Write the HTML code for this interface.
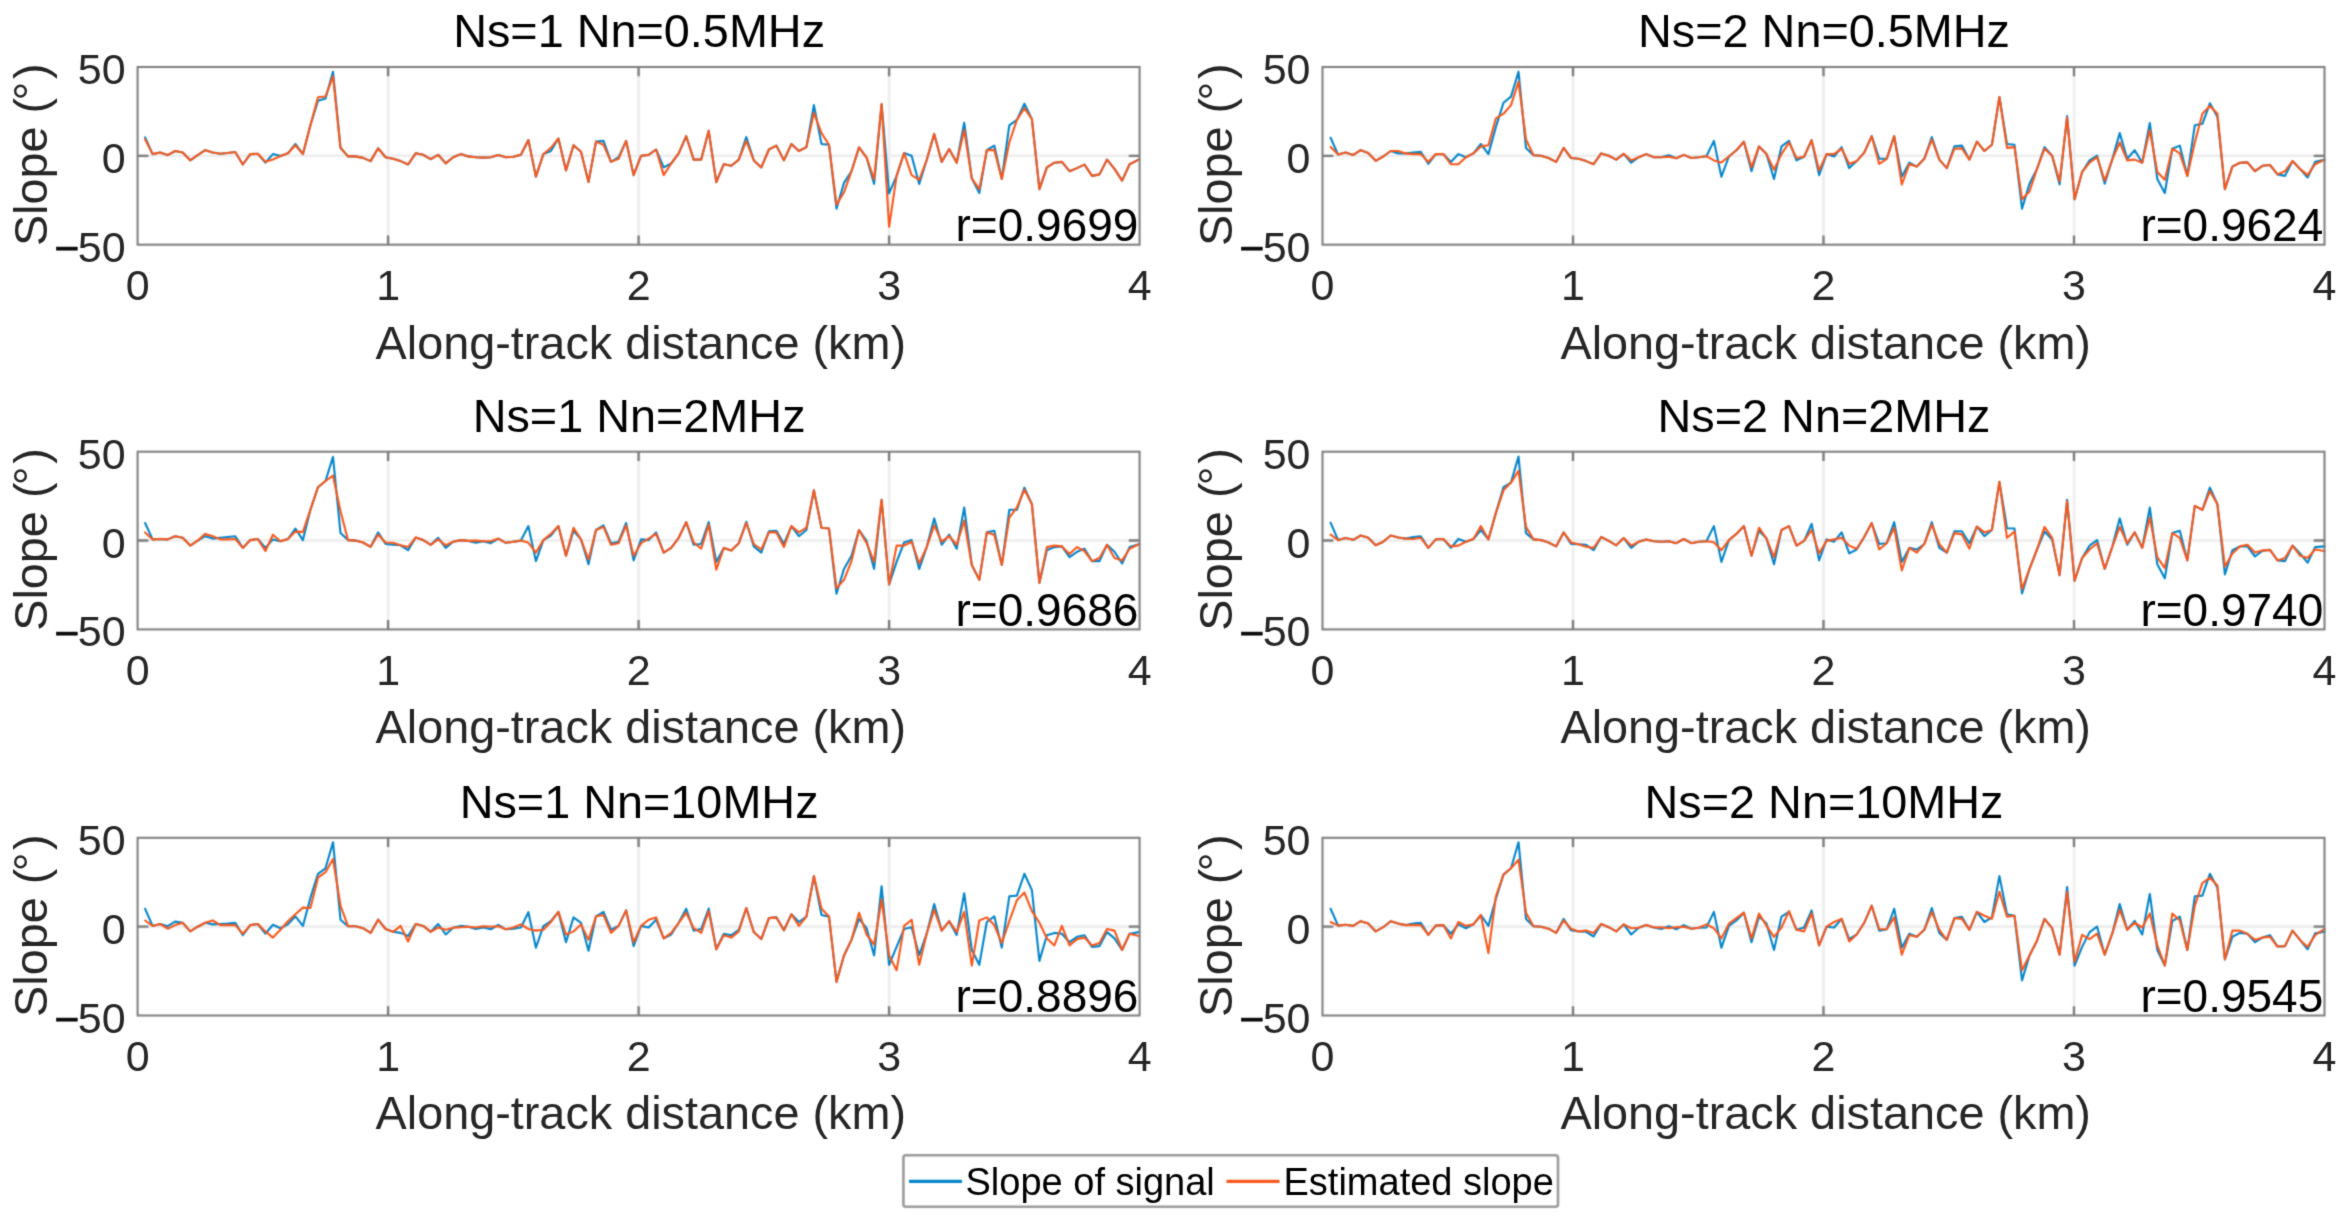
<!DOCTYPE html>
<html lang="en"><head><meta charset="utf-8"><title>Slope estimation comparison</title>
<style>html,body{margin:0;padding:0;background:#fff}body{width:2346px;height:1222px;overflow:hidden}svg{display:block}text{font-family:"Liberation Sans",sans-serif}.tk{font-size:43px;fill:#262626}.lb{font-size:46.8px;fill:#262626}.tt{font-size:46.8px;fill:#000}.rr{font-size:46px;fill:#000}.lg{font-size:38px;fill:#000}.mn{fill:#0c0c0c;stroke:#0c0c0c;stroke-width:.6px}</style></head><body>
<svg width="2346" height="1222" viewBox="0 0 2346 1222">
<defs><filter id="ba" filterUnits="userSpaceOnUse" x="0" y="0" width="2346" height="1222" color-interpolation-filters="sRGB"><feConvolveMatrix order="3" kernelMatrix="0.0446 0.1220 0.0446 0.1220 0.3335 0.1220 0.0446 0.1220 0.0446" divisor="1" edgeMode="none" preserveAlpha="false"/></filter><filter id="bl" filterUnits="userSpaceOnUse" x="0" y="0" width="2346" height="1222" color-interpolation-filters="sRGB"><feConvolveMatrix order="3" kernelMatrix="0.0324 0.1152 0.0324 0.1152 0.4096 0.1152 0.0324 0.1152 0.0324" divisor="1" edgeMode="none" preserveAlpha="false"/></filter><filter id="bt" filterUnits="userSpaceOnUse" x="0" y="0" width="2346" height="1222" color-interpolation-filters="sRGB"><feConvolveMatrix order="3" kernelMatrix="0.0156 0.0938 0.0156 0.0938 0.5625 0.0938 0.0156 0.0938 0.0156" divisor="1" edgeMode="none" preserveAlpha="false"/></filter></defs>
<rect width="2346" height="1222" fill="#fff"/>
<g filter="url(#ba)" fill="none" stroke="#ededed" stroke-width="2.6">
<path d="M388.1 67V244.7M638.6 67V244.7M889.1 67V244.7M137.6 155.8H1139.6"/>
<path d="M1573 67V244.7M1823.5 67V244.7M2074 67V244.7M1322.5 155.8H2324.5"/>
<path d="M388.1 451.7V629.4M638.6 451.7V629.4M889.1 451.7V629.4M137.6 540.5H1139.6"/>
<path d="M1573 451.7V629.4M1823.5 451.7V629.4M2074 451.7V629.4M1322.5 540.5H2324.5"/>
<path d="M388.1 837.8V1015.5M638.6 837.8V1015.5M889.1 837.8V1015.5M137.6 926.6H1139.6"/>
<path d="M1573 837.8V1015.5M1823.5 837.8V1015.5M2074 837.8V1015.5M1322.5 926.6H2324.5"/>
</g>
<g filter="url(#bl)" fill="none" stroke-width="2.1" stroke-linejoin="round" stroke-linecap="round">
<polyline points="145.1,137.4 152.6,154.1 160.1,152.5 167.7,155.1 175.2,151 182.7,152.5 190.2,160.3 197.7,155.1 205.2,150.2 212.8,152.5 220.3,153.8 227.8,153 235.3,152 242.8,164.5 250.3,154.1 257.8,153.8 265.4,162.6 272.9,154.1 280.4,156.1 287.9,153.3 295.4,144 302.9,154.1 310.4,125.3 318,100.7 325.5,98.6 333,71.7 340.5,147.8 348,156.4 355.5,156.4 363,157.9 370.6,161.1 378.1,148.3 385.6,157.2 393.1,158.7 400.6,161.1 408.1,164.5 415.7,153.3 423.2,154.8 430.7,159.2 438.2,154.8 445.7,163.4 453.2,157.2 460.7,154.1 468.3,156.4 475.8,157.2 483.3,157.6 490.8,157.2 498.3,155.1 505.8,157.2 513.4,156.7 520.9,154.8 528.4,140.1 535.9,176.6 543.4,154.1 550.9,151 558.4,138.5 566,170.4 573.5,145.2 581,151.7 588.5,182 596,141.6 603.5,140.9 611,161.9 618.6,157.2 626.1,140.9 633.6,175.1 641.1,155.7 648.6,154.9 656.1,149.5 663.7,167.4 671.2,163.5 678.7,153.4 686.2,136.2 693.7,159.6 701.2,159.6 708.7,130.8 716.3,182.1 723.8,164.2 731.3,165.8 738.8,159.6 746.3,137 753.8,160.4 761.3,167.4 768.9,149.5 776.4,145.6 783.9,160.4 791.4,144 798.9,151 806.4,147.1 813.9,105.1 821.5,144 829,144.8 836.5,208.6 844,182.9 851.5,171.2 859,147.4 866.6,157.7 874.1,184 881.6,104 889.1,193.3 896.6,175.9 904.1,153 911.6,155.7 919.2,184 926.7,160 934.2,133.9 941.7,161.9 949.2,149 956.7,162.7 964.2,122.7 971.8,178.3 979.3,193 986.8,150.2 994.3,145.6 1001.8,179 1009.3,125.3 1016.9,119.9 1024.4,103.6 1031.9,119.1 1039.4,189.1 1046.9,167.4 1054.4,162.7 1061.9,161.9 1069.5,171.2 1077,168.1 1084.5,164.6 1092,175.9 1099.5,174.4 1107,159.6 1114.5,168.9 1122.1,180.6 1129.6,164.2 1138.8,159.6" stroke="#0485ca"/>
<polyline points="145.1,139.3 152.6,154.1 160.1,152.5 167.7,155.1 175.2,151 182.7,152.5 190.2,160.3 197.7,155.1 205.2,150.2 212.8,152.5 220.3,153.8 227.8,153 235.3,152 242.8,164.5 250.3,154.1 257.8,153.8 265.4,161.8 272.9,159.5 280.4,156.1 287.9,153.3 295.4,145.2 302.9,154.1 310.4,125.3 318,97.3 325.5,96.5 333,76.3 340.5,147.8 348,156.4 355.5,156.4 363,157.9 370.6,161.1 378.1,148.3 385.6,157.2 393.1,158.7 400.6,161.1 408.1,164.5 415.7,153.3 423.2,154.8 430.7,159.2 438.2,154.8 445.7,163.4 453.2,157.2 460.7,154.1 468.3,156.4 475.8,157.2 483.3,157.6 490.8,157.2 498.3,155.1 505.8,157.2 513.4,156.7 520.9,154.8 528.4,140.1 535.9,176.6 543.4,154.1 550.9,147.8 558.4,138.5 566,170.4 573.5,145.2 581,151.7 588.5,182 596,141.6 603.5,144.8 611,161.9 618.6,158.8 626.1,140.9 633.6,175.1 641.1,155.7 648.6,154.9 656.1,149.5 663.7,175.1 671.2,163.5 678.7,153.4 686.2,136.2 693.7,159.6 701.2,159.6 708.7,130.8 716.3,182.1 723.8,164.2 731.3,165.8 738.8,159.6 746.3,140.9 753.8,160.4 761.3,167.4 768.9,149.5 776.4,145.6 783.9,160.4 791.4,144 798.9,151 806.4,147.1 813.9,112.9 821.5,133.1 829,144.8 836.5,204.7 844,192.3 851.5,171.2 859,147.4 866.6,157.7 874.1,179.3 881.6,104 889.1,226.8 896.6,175.9 904.1,153 911.6,175.1 919.2,179.8 926.7,160 934.2,133.9 941.7,161.9 949.2,149 956.7,162.7 964.2,130 971.8,178.3 979.3,189.1 986.8,150.2 994.3,149.9 1001.8,179 1009.3,142.5 1016.9,119.9 1024.4,108.2 1031.9,119.1 1039.4,189.1 1046.9,167.4 1054.4,162.7 1061.9,161.9 1069.5,171.2 1077,168.1 1084.5,164.6 1092,175.9 1099.5,174.4 1107,159.6 1114.5,168.9 1122.1,180.6 1129.6,164.2 1138.8,159.6" stroke="#f8581c"/>
<polyline points="1330.6,137.8 1338.1,154.6 1345.6,152.6 1353.2,154.9 1360.7,150.2 1368.2,153 1375.7,160.8 1383.2,156.5 1390.7,151 1398.2,153.4 1405.8,153.4 1413.3,152.6 1420.8,151.8 1428.3,163.8 1435.8,154.1 1443.3,154.1 1450.9,161.9 1458.4,154.1 1465.9,157.2 1473.4,153.4 1480.9,144 1488.4,154.1 1495.9,126.9 1503.5,102.8 1511,96.6 1518.5,71.7 1526,147.9 1533.5,155.2 1541,155.7 1548.5,158 1556.1,161.9 1563.6,147.9 1571.1,158 1578.6,158.8 1586.1,161.1 1593.6,164.2 1601.2,153.4 1608.7,155.7 1616.2,159.6 1623.7,153.8 1631.2,162.7 1638.7,157.2 1646.2,154.1 1653.8,157.2 1661.3,157.2 1668.8,155.2 1676.3,158.3 1683.8,154.9 1691.3,158 1698.8,157.2 1706.4,156.2 1713.9,140.9 1721.4,176.7 1728.9,156.5 1736.4,150.2 1743.9,141.7 1751.5,171.2 1759,146.4 1766.5,154.1 1774,179 1781.5,146.4 1789,140.9 1796.5,160.4 1804.1,156.8 1811.6,140.1 1819.1,175.1 1826.6,154.1 1834.1,156.5 1841.6,147.1 1849.2,168.1 1856.7,161.1 1864.2,152.6 1871.7,136.2 1879.2,158.8 1886.7,158.8 1894.2,136.2 1901.8,176.7 1909.3,162.7 1916.8,166.6 1924.3,158.8 1931.8,137 1939.3,159.6 1946.8,168.1 1954.4,146.4 1961.9,145.6 1969.4,159.6 1976.9,141.7 1984.4,151 1991.9,144.8 1999.4,97 2007,144 2014.5,144.8 2022,208.6 2029.5,183.7 2037,168.9 2044.5,147.1 2052.1,155.7 2059.6,184.5 2067.1,116 2074.6,199.3 2082.1,172 2089.6,160.4 2097.1,155.7 2104.7,183.7 2112.2,159.6 2119.7,133.1 2127.2,158.8 2134.7,150.2 2142.2,162.7 2149.8,123 2157.3,179 2164.8,193 2172.3,148.7 2179.8,145.6 2187.3,175.9 2194.8,125.3 2202.4,123.8 2209.9,103.3 2217.4,116.8 2224.9,189.1 2232.4,166.6 2239.9,162.7 2247.4,162.4 2255,171.2 2262.5,165.8 2270,165 2277.5,174.4 2285,175.9 2292.5,161.1 2300,168.9 2307.6,177.5 2315.1,161.9 2324.3,159.9" stroke="#0485ca"/>
<polyline points="1330.6,147.1 1338.1,154.6 1345.6,152.6 1353.2,154.9 1360.7,150.2 1368.2,153 1375.7,160.8 1383.2,156.5 1390.7,151 1398.2,151 1405.8,153.4 1413.3,154.1 1420.8,154.1 1428.3,161.9 1435.8,154.1 1443.3,154.1 1450.9,164.2 1458.4,164.2 1465.9,157.2 1473.4,153.4 1480.9,146.4 1488.4,145.3 1495.9,118.3 1503.5,113.7 1511,105.1 1518.5,81.8 1526,139.4 1533.5,155.2 1541,155.7 1548.5,158 1556.1,161.9 1563.6,147.9 1571.1,158 1578.6,158.8 1586.1,161.1 1593.6,164.2 1601.2,153.4 1608.7,155.7 1616.2,159.6 1623.7,153.8 1631.2,160.4 1638.7,157.2 1646.2,154.1 1653.8,157.2 1661.3,157.2 1668.8,156.8 1676.3,158.3 1683.8,154.9 1691.3,158 1698.8,157.2 1706.4,156.2 1713.9,160.4 1721.4,162.4 1728.9,156.5 1736.4,150.2 1743.9,141.7 1751.5,167.4 1759,146.4 1766.5,154.1 1774,169.7 1781.5,154.1 1789,142.5 1796.5,158 1804.1,156.8 1811.6,140.1 1819.1,170.5 1826.6,154.1 1834.1,154.1 1841.6,148.7 1849.2,163.9 1856.7,161.1 1864.2,152.6 1871.7,136.2 1879.2,163.9 1886.7,158.8 1894.2,136.2 1901.8,184.5 1909.3,164.2 1916.8,166.6 1924.3,158.8 1931.8,139.4 1939.3,159.6 1946.8,168.1 1954.4,148.7 1961.9,148.4 1969.4,159.6 1976.9,141.7 1984.4,151 1991.9,144.8 1999.4,97 2007,147.9 2014.5,147.1 2022,199.3 2029.5,191.5 2037,168.9 2044.5,148.7 2052.1,155.7 2059.6,181.4 2067.1,117.6 2074.6,199.3 2082.1,172 2089.6,162.7 2097.1,157.2 2104.7,180.6 2112.2,159.6 2119.7,142.5 2127.2,160.4 2134.7,159.6 2142.2,162.7 2149.8,130 2157.3,172 2164.8,179.8 2172.3,148.7 2179.8,153.4 2187.3,175.9 2194.8,142.5 2202.4,113.7 2209.9,105.9 2217.4,113.7 2224.9,189.1 2232.4,166.6 2239.9,162.7 2247.4,162.4 2255,171.2 2262.5,165.8 2270,165 2277.5,174.4 2285,171.2 2292.5,161.1 2300,168.9 2307.6,175.1 2315.1,164.2 2324.3,159.9" stroke="#f8581c"/>
<polyline points="145.1,523 152.6,539.4 160.1,539 167.7,539.4 175.2,536.2 182.7,537.8 190.2,545.6 197.7,540.6 205.2,536.2 212.8,538.6 220.3,537.8 227.8,537 235.3,536.2 242.8,547.9 250.3,540.1 257.8,539 265.4,547.9 272.9,539.4 280.4,541.2 287.9,539 295.4,528.5 302.9,540.1 310.4,509.8 318,487.2 325.5,481 333,456.9 340.5,533.1 348,540.1 355.5,540.6 363,542.5 370.6,546.8 378.1,532.4 385.6,544 393.1,544.8 400.6,545.3 408.1,550.2 415.7,537.5 423.2,540.1 430.7,544.8 438.2,537.8 445.7,547.9 453.2,541.7 460.7,540.1 468.3,540.9 475.8,542.8 483.3,541.2 490.8,543.2 498.3,538.6 505.8,542.8 513.4,541.7 520.9,540.6 528.4,526.1 535.9,561.1 543.4,540.1 550.9,535.5 558.4,526.1 566,555.7 573.5,530.8 581,539.4 588.5,564.3 596,530 603.5,525.4 611,543.2 618.6,541.7 626.1,523 633.6,560.4 641.1,539.4 648.6,540.1 656.1,532.4 663.7,552.6 671.2,547.9 678.7,537.8 686.2,522.2 693.7,544.8 701.2,544 708.7,522.2 716.3,561.9 723.8,547.9 731.3,550.6 738.8,543.2 746.3,521.8 753.8,546.4 761.3,552.6 768.9,531.3 776.4,530.8 783.9,544 791.4,526.1 798.9,536.2 806.4,530 813.9,490.3 821.5,527.7 829,528.5 836.5,593.8 844,568.9 851.5,555.7 859,530 866.6,540.9 874.1,568.9 881.6,499.7 889.1,584.5 896.6,561.9 904.1,542.5 911.6,540.1 919.2,568.9 926.7,547.1 934.2,518.4 941.7,544.8 949.2,534.7 956.7,548.7 964.2,507.5 971.8,565 979.3,579.8 986.8,532.4 994.3,530.8 1001.8,565 1009.3,509.8 1016.9,509.8 1024.4,487.7 1031.9,504.3 1039.4,582.9 1046.9,550.2 1054.4,547.1 1061.9,546.4 1069.5,557.2 1077,551.8 1084.5,548.7 1092,561.1 1099.5,561.1 1107,544.8 1114.5,551.8 1122.1,563.5 1129.6,547.1 1138.8,544.3" stroke="#0485ca"/>
<polyline points="145.1,532.4 152.6,539.4 160.1,539 167.7,539.4 175.2,536.2 182.7,537.8 190.2,545.6 197.7,540.6 205.2,533.9 212.8,536.2 220.3,539.4 227.8,539.4 235.3,539 242.8,547.9 250.3,540.1 257.8,539 265.4,551 272.9,534.7 280.4,541.2 287.9,539 295.4,531.6 302.9,531.9 310.4,509.8 318,487.2 325.5,481 333,475.6 340.5,511.3 348,540.1 355.5,540.6 363,542.5 370.6,546.8 378.1,534.7 385.6,542.5 393.1,542.8 400.6,545.3 408.1,547.1 415.7,537.5 423.2,540.1 430.7,544.8 438.2,539.4 445.7,545.3 453.2,541.7 460.7,540.1 468.3,540.9 475.8,540.6 483.3,541.2 490.8,541.2 498.3,538.6 505.8,542.8 513.4,541.7 520.9,540.6 528.4,542.8 535.9,552.6 543.4,540.1 550.9,533.9 558.4,526.1 566,555.7 573.5,527.7 581,539.4 588.5,559.6 596,530 603.5,526.9 611,544.8 618.6,543.2 626.1,525.4 633.6,555.7 641.1,543.2 648.6,538.6 656.1,533.9 663.7,552.6 671.2,547.9 678.7,537.8 686.2,522.2 693.7,542.5 701.2,548.7 708.7,524.6 716.3,569.7 723.8,547.9 731.3,550.6 738.8,543.2 746.3,523 753.8,544 761.3,549.5 768.9,532.4 776.4,532.4 783.9,547.1 791.4,526.1 798.9,532.4 806.4,527.7 813.9,490.3 821.5,527.7 829,528.5 836.5,588.4 844,579.8 851.5,561.1 859,530 866.6,543.2 874.1,561.9 881.6,499.7 889.1,584.5 896.6,545.6 904.1,545.6 911.6,541.7 919.2,563.5 926.7,547.1 934.2,525.4 941.7,541.7 949.2,536.2 956.7,544.8 964.2,520.7 971.8,565 979.3,579.8 986.8,532.4 994.3,534.7 1001.8,565 1009.3,517.6 1016.9,507.5 1024.4,489.6 1031.9,504.3 1039.4,582.9 1046.9,547.1 1054.4,545.6 1061.9,546.4 1069.5,554.1 1077,547.1 1084.5,551 1092,561.1 1099.5,558 1107,544.8 1114.5,558 1122.1,560.4 1129.6,548.7 1138.8,544.3" stroke="#f8581c"/>
<polyline points="1330.6,522.6 1338.1,540.1 1345.6,538.1 1353.2,539.8 1360.7,535.5 1368.2,537.8 1375.7,545.3 1383.2,541.7 1390.7,535.5 1398.2,537.5 1405.8,538.6 1413.3,537 1420.8,536.2 1428.3,547.9 1435.8,539.4 1443.3,539 1450.9,547.9 1458.4,539 1465.9,541.7 1473.4,539 1480.9,530 1488.4,539.4 1495.9,512.9 1503.5,487.2 1511,482.6 1518.5,456.6 1526,533.1 1533.5,539.4 1541,540.1 1548.5,542.5 1556.1,546.4 1563.6,532.4 1571.1,544 1578.6,544.3 1586.1,544.8 1593.6,550.2 1601.2,537 1608.7,540.9 1616.2,545.3 1623.7,538.1 1631.2,547.9 1638.7,541.7 1646.2,539.4 1653.8,541.2 1661.3,541.7 1668.8,541.2 1676.3,543.2 1683.8,539 1691.3,543.2 1698.8,541.7 1706.4,541.2 1713.9,526.1 1721.4,561.9 1728.9,540.1 1736.4,533.9 1743.9,526.1 1751.5,555.7 1759,530.8 1766.5,538.6 1774,564.3 1781.5,530 1789,526.1 1796.5,545.6 1804.1,540.9 1811.6,523.8 1819.1,560.4 1826.6,539.4 1834.1,541.7 1841.6,532.4 1849.2,553.4 1856.7,549.5 1864.2,537 1871.7,523 1879.2,544 1886.7,543.2 1894.2,522.2 1901.8,561.9 1909.3,547.9 1916.8,549.5 1924.3,544 1931.8,522.2 1939.3,547.9 1946.8,552.6 1954.4,531.3 1961.9,531.3 1969.4,543.2 1976.9,526.6 1984.4,536.2 1991.9,530 1999.4,481.8 2007,528.2 2014.5,528.5 2022,593.5 2029.5,568.9 2037,549.5 2044.5,531.6 2052.1,539.4 2059.6,575.1 2067.1,499.7 2074.6,580.6 2082.1,558 2089.6,545.6 2097.1,540.1 2104.7,568.9 2112.2,547.1 2119.7,518.4 2127.2,544.8 2134.7,532.4 2142.2,547.9 2149.8,507.5 2157.3,564.3 2164.8,578.3 2172.3,533.1 2179.8,530.8 2187.3,560.4 2194.8,505.9 2202.4,509.8 2209.9,487.7 2217.4,504.3 2224.9,574.4 2232.4,550.2 2239.9,546.4 2247.4,546.4 2255,556.5 2262.5,550.6 2270,549.9 2277.5,560.4 2285,561.1 2292.5,545.6 2300,553.4 2307.6,562.7 2315.1,547.1 2324.3,546.4" stroke="#0485ca"/>
<polyline points="1330.6,534.7 1338.1,540.1 1345.6,538.1 1353.2,539.8 1360.7,535.5 1368.2,537.8 1375.7,545.3 1383.2,541.7 1390.7,535.5 1398.2,537.5 1405.8,538.6 1413.3,539 1420.8,537.8 1428.3,547.9 1435.8,539.4 1443.3,539 1450.9,546.4 1458.4,545.6 1465.9,541.7 1473.4,539 1480.9,526.1 1488.4,539.4 1495.9,512.9 1503.5,490.3 1511,482.6 1518.5,470.9 1526,526.9 1533.5,539.4 1541,540.1 1548.5,542.5 1556.1,546.4 1563.6,532.4 1571.1,542.5 1578.6,544.3 1586.1,546.8 1593.6,547.9 1601.2,537 1608.7,540.9 1616.2,545.3 1623.7,538.1 1631.2,545.6 1638.7,541.7 1646.2,539.4 1653.8,541.2 1661.3,541.7 1668.8,541.2 1676.3,543.2 1683.8,539 1691.3,543.2 1698.8,541.7 1706.4,541.2 1713.9,542.2 1721.4,550.2 1728.9,540.1 1736.4,533.9 1743.9,526.1 1751.5,555.7 1759,527.7 1766.5,538.6 1774,557.2 1781.5,530 1789,526.1 1796.5,545.6 1804.1,540.9 1811.6,530 1819.1,553.4 1826.6,540.9 1834.1,539.4 1841.6,537.8 1849.2,545.6 1856.7,548.7 1864.2,537 1871.7,523 1879.2,549.5 1886.7,543.2 1894.2,527.7 1901.8,570.5 1909.3,547.9 1916.8,552.6 1924.3,544 1931.8,524.6 1939.3,544 1946.8,552.6 1954.4,533.1 1961.9,534.4 1969.4,548.7 1976.9,526.6 1984.4,532.4 1991.9,530 1999.4,481.8 2007,537.8 2014.5,531.6 2022,589.1 2029.5,568.9 2037,549.5 2044.5,526.9 2052.1,537.8 2059.6,575.1 2067.1,501.2 2074.6,580.6 2082.1,558 2089.6,549.5 2097.1,543.2 2104.7,568.9 2112.2,547.1 2119.7,526.9 2127.2,543.2 2134.7,532.4 2142.2,547.9 2149.8,517.6 2157.3,557.2 2164.8,568.1 2172.3,533.1 2179.8,537.8 2187.3,560.4 2194.8,505.9 2202.4,509.8 2209.9,491.1 2217.4,504.3 2224.9,566.6 2232.4,553.4 2239.9,546.4 2247.4,544.8 2255,552.6 2262.5,550.6 2270,549.9 2277.5,560.4 2285,558 2292.5,545.6 2300,555.7 2307.6,558 2315.1,549.5 2324.3,551" stroke="#f8581c"/>
<polyline points="145.1,908.8 152.6,925.9 160.1,924 167.7,926.2 175.2,921.6 182.7,922.8 190.2,931.4 197.7,926.7 205.2,922.8 212.8,924.4 220.3,924 227.8,923.6 235.3,922.8 242.8,935.2 250.3,925.1 257.8,924 265.4,933.7 272.9,924.8 280.4,928.2 287.9,924.4 295.4,916.3 302.9,925.9 310.4,897.9 318,873.8 325.5,868.3 333,842.2 340.5,919.7 348,926.2 355.5,926.2 363,928.2 370.6,932.9 378.1,919.7 385.6,929 393.1,931.8 400.6,932.9 408.1,936 415.7,924 423.2,925.9 430.7,931.8 438.2,924 445.7,934.5 453.2,927.8 460.7,925.9 468.3,926.7 475.8,929 483.3,927.5 490.8,929.3 498.3,924.8 505.8,929.3 513.4,928.7 520.9,927.5 528.4,912.2 535.9,947.7 543.4,926.2 550.9,921.2 558.4,911.9 566,942.2 573.5,917.4 581,922.8 588.5,950.8 596,916.3 603.5,911.9 611,929.8 618.6,925.9 626.1,910.4 633.6,946.1 641.1,925.9 648.6,927.5 656.1,919.7 663.7,938.4 671.2,934.5 678.7,922.8 686.2,908.8 693.7,930.6 701.2,929 708.7,908.5 716.3,949.3 723.8,933.7 731.3,935.2 738.8,929.8 746.3,908 753.8,932.1 761.3,939.1 768.9,918.1 776.4,917.4 783.9,930.3 791.4,914.2 798.9,922 806.4,916.6 813.9,876.1 821.5,915 829,916.6 836.5,981.9 844,955.5 851.5,939.9 859,918.9 866.6,928.2 874.1,955.5 881.6,886.2 889.1,964.8 896.6,946.9 904.1,929 911.6,927.2 919.2,955 926.7,933.7 934.2,904.1 941.7,930.6 949.2,921.2 956.7,934.9 964.2,893.2 971.8,950 979.3,964.8 986.8,922 994.3,916.3 1001.8,947.7 1009.3,896.3 1016.9,895.6 1024.4,873.8 1031.9,890.1 1039.4,960.9 1046.9,935.2 1054.4,932.9 1061.9,933.7 1069.5,942.2 1077,936.8 1084.5,935.2 1092,946.9 1099.5,946.1 1107,932.1 1114.5,938.4 1122.1,950 1129.6,933.7 1138.8,932.1" stroke="#0485ca"/>
<polyline points="145.1,920.5 152.6,925.9 160.1,924 167.7,928.7 175.2,925.1 182.7,922.8 190.2,931.4 197.7,926.7 205.2,922.8 212.8,920.5 220.3,925.1 227.8,925.1 235.3,925.1 242.8,933.7 250.3,925.1 257.8,924 265.4,931.4 272.9,937.6 280.4,929.8 287.9,921.2 295.4,914.2 302.9,907.6 310.4,908 318,877.7 325.5,872.2 333,859 340.5,905.7 348,926.2 355.5,926.2 363,928.2 370.6,932.9 378.1,919.7 385.6,929 393.1,931.8 400.6,925.9 408.1,941.5 415.7,924 423.2,925.9 430.7,931.8 438.2,927.5 445.7,929.8 453.2,927.8 460.7,927.2 468.3,926.7 475.8,927.5 483.3,926.2 490.8,926.7 498.3,926.2 505.8,929.3 513.4,927.5 520.9,924.4 528.4,929 535.9,930.6 543.4,929.8 550.9,922 558.4,911.9 566,934.5 573.5,931.4 581,924.4 588.5,939.9 596,916.3 603.5,915 611,932.9 618.6,925.9 626.1,910.4 633.6,942.2 641.1,925.9 648.6,919.7 656.1,917.4 663.7,938.4 671.2,932.9 678.7,922.8 686.2,912.7 693.7,928.2 701.2,932.9 708.7,911.1 716.3,949.3 723.8,935.2 731.3,937.6 738.8,931.4 746.3,908 753.8,932.1 761.3,939.1 768.9,918.1 776.4,917.4 783.9,930.3 791.4,914.2 798.9,925.9 806.4,916.6 813.9,876.1 821.5,908.8 829,916.6 836.5,981.9 844,955.5 851.5,939.9 859,912.7 866.6,934.5 874.1,944.6 881.6,899.5 889.1,955.5 896.6,970.3 904.1,925.9 911.6,919.7 919.2,964.8 926.7,933.7 934.2,909.6 941.7,930.6 949.2,921.2 956.7,932.1 964.2,911.9 971.8,965.6 979.3,920.5 986.8,917.4 994.3,925.1 1001.8,943 1009.3,921.2 1016.9,900.2 1024.4,892.5 1031.9,911.1 1039.4,922.8 1046.9,938.4 1054.4,945.4 1061.9,925.9 1069.5,945.4 1077,939.1 1084.5,937.6 1092,945.4 1099.5,943 1107,929 1114.5,930.6 1122.1,950 1129.6,933.7 1138.8,936" stroke="#f8581c"/>
<polyline points="1330.6,908.8 1338.1,925.6 1345.6,924.7 1353.2,925.9 1360.7,921.2 1368.2,923.6 1375.7,931.4 1383.2,927.2 1390.7,921.2 1398.2,923.6 1405.8,925.1 1413.3,923.6 1420.8,922.8 1428.3,934.9 1435.8,925.6 1443.3,925.1 1450.9,933.7 1458.4,924.4 1465.9,928.2 1473.4,924.4 1480.9,915 1488.4,925.9 1495.9,898.7 1503.5,874.6 1511,868.3 1518.5,842.2 1526,918.9 1533.5,926.2 1541,926.7 1548.5,928.7 1556.1,932.9 1563.6,918.9 1571.1,930.3 1578.6,931.4 1586.1,931.8 1593.6,936.5 1601.2,924 1608.7,927.2 1616.2,931.4 1623.7,924.4 1631.2,934.5 1638.7,927.8 1646.2,925.1 1653.8,927.5 1661.3,929 1668.8,926.2 1676.3,929.3 1683.8,925.1 1691.3,928.7 1698.8,927.8 1706.4,927.5 1713.9,911.9 1721.4,947.7 1728.9,925.9 1736.4,920.5 1743.9,912.7 1751.5,942.2 1759,916.6 1766.5,923.6 1774,950 1781.5,916.6 1789,911.9 1796.5,929.8 1804.1,927.5 1811.6,910.4 1819.1,945.4 1826.6,926.7 1834.1,927.5 1841.6,918.9 1849.2,939.1 1856.7,934.5 1864.2,922.8 1871.7,905.7 1879.2,930.6 1886.7,929.3 1894.2,908.8 1901.8,947.7 1909.3,933.7 1916.8,936.8 1924.3,929.8 1931.8,908 1939.3,932.9 1946.8,939.9 1954.4,918.1 1961.9,916.9 1969.4,929.8 1976.9,911.9 1984.4,922 1991.9,917.4 1999.4,876.1 2007,914.2 2014.5,915.8 2022,980.4 2029.5,955.5 2037,940.7 2044.5,918.9 2052.1,928.2 2059.6,954.7 2067.1,887 2074.6,965.6 2082.1,946.9 2089.6,932.1 2097.1,926.7 2104.7,954.7 2112.2,933.7 2119.7,904.1 2127.2,929.8 2134.7,920.9 2142.2,934.5 2149.8,894 2157.3,950 2164.8,965.6 2172.3,921.2 2179.8,916.6 2187.3,950 2194.8,896.3 2202.4,895.6 2209.9,873.8 2217.4,887.8 2224.9,959.4 2232.4,936.8 2239.9,932.9 2247.4,933.7 2255,942.2 2262.5,937.6 2270,935.2 2277.5,946.5 2285,946.1 2292.5,930.6 2300,939.9 2307.6,949.3 2315.1,933.4 2324.3,931.8" stroke="#0485ca"/>
<polyline points="1330.6,922 1338.1,925.6 1345.6,924.7 1353.2,925.9 1360.7,921.2 1368.2,923.6 1375.7,931.4 1383.2,927.2 1390.7,921.2 1398.2,923.6 1405.8,925.1 1413.3,925.1 1420.8,925.1 1428.3,934.9 1435.8,925.6 1443.3,925.1 1450.9,938.4 1458.4,922 1465.9,925.9 1473.4,924.4 1480.9,915 1488.4,953.1 1495.9,896.3 1503.5,874.6 1511,868.3 1518.5,859.8 1526,912.7 1533.5,926.2 1541,926.7 1548.5,928.7 1556.1,932.9 1563.6,920.5 1571.1,928.7 1578.6,931.4 1586.1,930.6 1593.6,932.9 1601.2,924 1608.7,927.2 1616.2,931.4 1623.7,924.4 1631.2,928.2 1638.7,927.8 1646.2,925.1 1653.8,927.5 1661.3,927.2 1668.8,928.2 1676.3,927.2 1683.8,926.7 1691.3,928.7 1698.8,927.8 1706.4,924.4 1713.9,928.2 1721.4,938.4 1728.9,923.6 1736.4,918.1 1743.9,912.7 1751.5,938.4 1759,913.5 1766.5,925.9 1774,936.8 1781.5,927.5 1789,911.1 1796.5,929.8 1804.1,931.4 1811.6,913.5 1819.1,945.4 1826.6,926.7 1834.1,922 1841.6,918.9 1849.2,941.5 1856.7,934.5 1864.2,922.8 1871.7,905.7 1879.2,929 1886.7,929.3 1894.2,917.4 1901.8,954.7 1909.3,935.2 1916.8,936.8 1924.3,929.8 1931.8,911.9 1939.3,929.8 1946.8,939.9 1954.4,918.1 1961.9,918.9 1969.4,929.8 1976.9,911.9 1984.4,915.8 1991.9,918.9 1999.4,891.7 2007,916.6 2014.5,915.8 2022,970.3 2029.5,955.5 2037,940.7 2044.5,918.9 2052.1,928.2 2059.6,954.7 2067.1,891.7 2074.6,961.7 2082.1,934.9 2089.6,939.1 2097.1,933.7 2104.7,954.7 2112.2,933.7 2119.7,909.6 2127.2,929.8 2134.7,922.8 2142.2,927.5 2149.8,913.5 2157.3,945.4 2164.8,965.6 2172.3,913.5 2179.8,920.5 2187.3,950 2194.8,905.7 2202.4,883.1 2209.9,877.7 2217.4,885.5 2224.9,959.4 2232.4,930.6 2239.9,930.6 2247.4,933.7 2255,939.9 2262.5,937.6 2270,936.8 2277.5,946.5 2285,946.1 2292.5,930.6 2300,939.9 2307.6,946.9 2315.1,935.2 2324.3,929" stroke="#f8581c"/>
<path d="M909 1181.4H962" stroke="#0485ca" stroke-width="3.2" stroke-linecap="butt"/>
<path d="M1226.5 1181.4H1279.5" stroke="#f8581c" stroke-width="3.2" stroke-linecap="butt"/>
</g>
<g filter="url(#ba)" fill="none" stroke="#7c7c7c">
<path d="M388.1 67v9.3 M388.1 244.7v-9.3M638.6 67v9.3 M638.6 244.7v-9.3M889.1 67v9.3 M889.1 244.7v-9.3M137.6 155.8h10.8 M1139.6 155.8h-10.8" stroke-width="2.3"/>
<rect x="137.6" y="67" width="1002" height="177.7" stroke-width="2.0"/>
<path d="M1573 67v9.3 M1573 244.7v-9.3M1823.5 67v9.3 M1823.5 244.7v-9.3M2074 67v9.3 M2074 244.7v-9.3M1322.5 155.8h10.8 M2324.5 155.8h-10.8" stroke-width="2.3"/>
<rect x="1322.5" y="67" width="1002" height="177.7" stroke-width="2.0"/>
<path d="M388.1 451.7v9.3 M388.1 629.4v-9.3M638.6 451.7v9.3 M638.6 629.4v-9.3M889.1 451.7v9.3 M889.1 629.4v-9.3M137.6 540.5h10.8 M1139.6 540.5h-10.8" stroke-width="2.3"/>
<rect x="137.6" y="451.7" width="1002" height="177.7" stroke-width="2.0"/>
<path d="M1573 451.7v9.3 M1573 629.4v-9.3M1823.5 451.7v9.3 M1823.5 629.4v-9.3M2074 451.7v9.3 M2074 629.4v-9.3M1322.5 540.5h10.8 M2324.5 540.5h-10.8" stroke-width="2.3"/>
<rect x="1322.5" y="451.7" width="1002" height="177.7" stroke-width="2.0"/>
<path d="M388.1 837.8v9.3 M388.1 1015.5v-9.3M638.6 837.8v9.3 M638.6 1015.5v-9.3M889.1 837.8v9.3 M889.1 1015.5v-9.3M137.6 926.6h10.8 M1139.6 926.6h-10.8" stroke-width="2.3"/>
<rect x="137.6" y="837.8" width="1002" height="177.7" stroke-width="2.0"/>
<path d="M1573 837.8v9.3 M1573 1015.5v-9.3M1823.5 837.8v9.3 M1823.5 1015.5v-9.3M2074 837.8v9.3 M2074 1015.5v-9.3M1322.5 926.6h10.8 M2324.5 926.6h-10.8" stroke-width="2.3"/>
<rect x="1322.5" y="837.8" width="1002" height="177.7" stroke-width="2.0"/>
<rect x="903.4" y="1155.3" width="654.6" height="51.4" rx="2.5" stroke="#9a9a9a" stroke-width="2.6"/>
</g>
<g filter="url(#bt)">
<text class="rr" x="1138.4" y="241.3" text-anchor="end">r=0.9699</text>
<text class="tt" x="639.1" y="46.9" text-anchor="middle">Ns=1 Nn=0.5MHz</text>
<text class="tk" x="125.6" y="84" text-anchor="end">50</text>
<text class="tk" x="125.6" y="172.8" text-anchor="end">0</text>
<text class="tk" x="124" y="261.7" text-anchor="end"><tspan dx="1.6" dy="1.3" class="mn">−</tspan><tspan dx="-1.6" dy="-1.3">50</tspan></text>
<text class="tk" x="137.6" y="299.8" text-anchor="middle">0</text>
<text class="tk" x="388.1" y="299.8" text-anchor="middle">1</text>
<text class="tk" x="638.6" y="299.8" text-anchor="middle">2</text>
<text class="tk" x="889.1" y="299.8" text-anchor="middle">3</text>
<text class="tk" x="1139.6" y="299.8" text-anchor="middle">4</text>
<text class="lb" x="640.8" y="358.5" text-anchor="middle">Along-track distance (km)</text>
<text class="lb" transform="translate(46.6 154.8) rotate(-90)" text-anchor="middle">Slope (<tspan dx="-2.6">°</tspan><tspan dx="2.6">)</tspan></text>
<text class="rr" x="2323.3" y="241.3" text-anchor="end">r=0.9624</text>
<text class="tt" x="1824" y="46.9" text-anchor="middle">Ns=2 Nn=0.5MHz</text>
<text class="tk" x="1310.5" y="84" text-anchor="end">50</text>
<text class="tk" x="1310.5" y="172.8" text-anchor="end">0</text>
<text class="tk" x="1308.9" y="261.7" text-anchor="end"><tspan dx="1.6" dy="1.3" class="mn">−</tspan><tspan dx="-1.6" dy="-1.3">50</tspan></text>
<text class="tk" x="1322.5" y="299.8" text-anchor="middle">0</text>
<text class="tk" x="1573" y="299.8" text-anchor="middle">1</text>
<text class="tk" x="1823.5" y="299.8" text-anchor="middle">2</text>
<text class="tk" x="2074" y="299.8" text-anchor="middle">3</text>
<text class="tk" x="2324.5" y="299.8" text-anchor="middle">4</text>
<text class="lb" x="1825.7" y="358.5" text-anchor="middle">Along-track distance (km)</text>
<text class="lb" transform="translate(1231.5 154.8) rotate(-90)" text-anchor="middle">Slope (<tspan dx="-2.6">°</tspan><tspan dx="2.6">)</tspan></text>
<text class="rr" x="1138.4" y="626" text-anchor="end">r=0.9686</text>
<text class="tt" x="639.1" y="431.6" text-anchor="middle">Ns=1 Nn=2MHz</text>
<text class="tk" x="125.6" y="468.7" text-anchor="end">50</text>
<text class="tk" x="125.6" y="557.5" text-anchor="end">0</text>
<text class="tk" x="124" y="646.4" text-anchor="end"><tspan dx="1.6" dy="1.3" class="mn">−</tspan><tspan dx="-1.6" dy="-1.3">50</tspan></text>
<text class="tk" x="137.6" y="684.5" text-anchor="middle">0</text>
<text class="tk" x="388.1" y="684.5" text-anchor="middle">1</text>
<text class="tk" x="638.6" y="684.5" text-anchor="middle">2</text>
<text class="tk" x="889.1" y="684.5" text-anchor="middle">3</text>
<text class="tk" x="1139.6" y="684.5" text-anchor="middle">4</text>
<text class="lb" x="640.8" y="743.2" text-anchor="middle">Along-track distance (km)</text>
<text class="lb" transform="translate(46.6 539.5) rotate(-90)" text-anchor="middle">Slope (<tspan dx="-2.6">°</tspan><tspan dx="2.6">)</tspan></text>
<text class="rr" x="2323.3" y="626" text-anchor="end">r=0.9740</text>
<text class="tt" x="1824" y="431.6" text-anchor="middle">Ns=2 Nn=2MHz</text>
<text class="tk" x="1310.5" y="468.7" text-anchor="end">50</text>
<text class="tk" x="1310.5" y="557.5" text-anchor="end">0</text>
<text class="tk" x="1308.9" y="646.4" text-anchor="end"><tspan dx="1.6" dy="1.3" class="mn">−</tspan><tspan dx="-1.6" dy="-1.3">50</tspan></text>
<text class="tk" x="1322.5" y="684.5" text-anchor="middle">0</text>
<text class="tk" x="1573" y="684.5" text-anchor="middle">1</text>
<text class="tk" x="1823.5" y="684.5" text-anchor="middle">2</text>
<text class="tk" x="2074" y="684.5" text-anchor="middle">3</text>
<text class="tk" x="2324.5" y="684.5" text-anchor="middle">4</text>
<text class="lb" x="1825.7" y="743.2" text-anchor="middle">Along-track distance (km)</text>
<text class="lb" transform="translate(1231.5 539.5) rotate(-90)" text-anchor="middle">Slope (<tspan dx="-2.6">°</tspan><tspan dx="2.6">)</tspan></text>
<text class="rr" x="1138.4" y="1012.1" text-anchor="end">r=0.8896</text>
<text class="tt" x="639.1" y="817.7" text-anchor="middle">Ns=1 Nn=10MHz</text>
<text class="tk" x="125.6" y="854.8" text-anchor="end">50</text>
<text class="tk" x="125.6" y="943.6" text-anchor="end">0</text>
<text class="tk" x="124" y="1032.5" text-anchor="end"><tspan dx="1.6" dy="1.3" class="mn">−</tspan><tspan dx="-1.6" dy="-1.3">50</tspan></text>
<text class="tk" x="137.6" y="1070.6" text-anchor="middle">0</text>
<text class="tk" x="388.1" y="1070.6" text-anchor="middle">1</text>
<text class="tk" x="638.6" y="1070.6" text-anchor="middle">2</text>
<text class="tk" x="889.1" y="1070.6" text-anchor="middle">3</text>
<text class="tk" x="1139.6" y="1070.6" text-anchor="middle">4</text>
<text class="lb" x="640.8" y="1129.3" text-anchor="middle">Along-track distance (km)</text>
<text class="lb" transform="translate(46.6 925.6) rotate(-90)" text-anchor="middle">Slope (<tspan dx="-2.6">°</tspan><tspan dx="2.6">)</tspan></text>
<text class="rr" x="2323.3" y="1012.1" text-anchor="end">r=0.9545</text>
<text class="tt" x="1824" y="817.7" text-anchor="middle">Ns=2 Nn=10MHz</text>
<text class="tk" x="1310.5" y="854.8" text-anchor="end">50</text>
<text class="tk" x="1310.5" y="943.6" text-anchor="end">0</text>
<text class="tk" x="1308.9" y="1032.5" text-anchor="end"><tspan dx="1.6" dy="1.3" class="mn">−</tspan><tspan dx="-1.6" dy="-1.3">50</tspan></text>
<text class="tk" x="1322.5" y="1070.6" text-anchor="middle">0</text>
<text class="tk" x="1573" y="1070.6" text-anchor="middle">1</text>
<text class="tk" x="1823.5" y="1070.6" text-anchor="middle">2</text>
<text class="tk" x="2074" y="1070.6" text-anchor="middle">3</text>
<text class="tk" x="2324.5" y="1070.6" text-anchor="middle">4</text>
<text class="lb" x="1825.7" y="1129.3" text-anchor="middle">Along-track distance (km)</text>
<text class="lb" transform="translate(1231.5 925.6) rotate(-90)" text-anchor="middle">Slope (<tspan dx="-2.6">°</tspan><tspan dx="2.6">)</tspan></text>
<text class="lg" x="965.5" y="1195">Slope of signal</text>
<text class="lg" x="1283.5" y="1195">Estimated slope</text>
</g>
</svg></body></html>
